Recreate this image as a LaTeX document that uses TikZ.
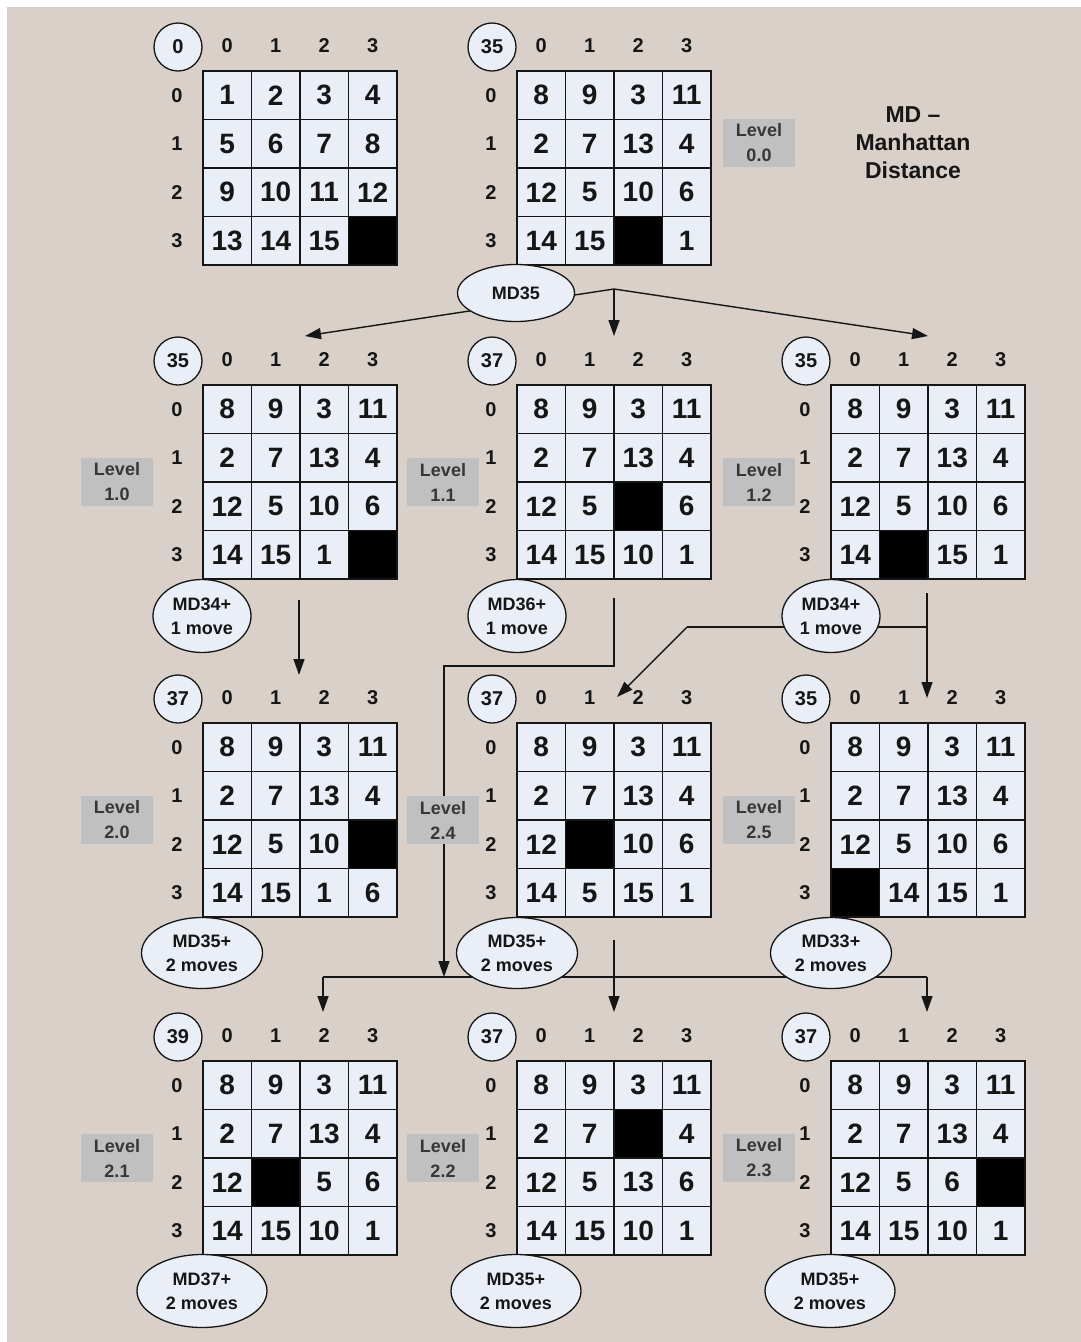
\documentclass[tikz,border=0pt]{standalone}
\usepackage{fontspec}
\setmainfont{Liberation Sans}
\usetikzlibrary{arrows.meta,shapes.geometric}
\definecolor{bgc}{RGB}{217,208,201}
\definecolor{cellc}{RGB}{233,238,247}
\definecolor{lvl}{RGB}{192,192,192}
\definecolor{ink}{RGB}{22,22,22}
\definecolor{lvltext}{RGB}{55,55,55}
\pgfdeclarelayer{back}
\pgfdeclarelayer{lines}
\pgfsetlayers{back,lines,main}
\tikzset{
  cell/.style={draw=ink, line width=1.3pt, fill=cellc, minimum size=48.5pt, inner sep=0pt,
    font=\fontsize{28}{28}\selectfont\bfseries, text=ink},
  hole/.style={cell, fill=black},
  hdr/.style={font=\fontsize{20}{20}\selectfont\bfseries, text=ink, inner sep=0pt},
  numcirc/.style={circle, draw=ink, line width=1.3pt, fill=cellc, minimum size=48pt, inner sep=0pt,
    font=\fontsize{20}{20}\selectfont\bfseries, text=ink},
  lvlbox/.style={fill=lvl, minimum width=72pt, minimum height=48pt, inner sep=0pt, align=center,
    font=\fontsize{18}{25}\selectfont\bfseries, text=lvltext},
  mdell/.style={ellipse, draw=ink, line width=1.3pt, fill=cellc, inner sep=0pt, align=center,
    font=\fontsize{18}{24}\selectfont\bfseries, text=ink},
  titletext/.style={align=center, font=\fontsize{23}{28}\selectfont\bfseries, text=ink},
  conn/.style={draw=ink, line width=1.4pt},
  arr/.style={conn, -{Triangle[length=16pt,width=11pt]}},
}
\newcommand\puzzle[5]{%
  \node[numcirc] (#1-n) at ({#2-25},{#3-24}) {#4};
  \foreach \k in {0,...,3}{
    \node[hdr] (#1-col\k) at ({#2+24.25+48.5*\k},{#3-25}) {\k};
    \node[hdr] (#1-row\k) at ({#2-26},{#3+24.25+48.5*\k}) {\k};
  }
  \foreach \v [count=\i from 0] in {#5}{
    \pgfmathtruncatemacro\prow{\i/4}
    \pgfmathtruncatemacro\pcol{\i-4*\prow}
    \ifnum\v=0
      \node[hole] (#1-\prow\pcol) at ({#2+24.25+48.5*\pcol},{#3+24.25+48.5*\prow}) {};
    \else
      \node[cell] (#1-\prow\pcol) at ({#2+24.25+48.5*\pcol},{#3+24.25+48.5*\prow}) {\v};
    \fi
  }
}
\begin{document}
\begin{tikzpicture}[x=1pt,y=-1pt]
\useasboundingbox (0,0) rectangle (1081,1342);
\begin{pgfonlayer}{back}
  \fill[white] (0,0) rectangle (1081,1342);
  \fill[bgc] (7,7) rectangle (1081,1342);
\end{pgfonlayer}

% ---- grids ----
\puzzle{goal}{203}{71}{0}{1,2,3,4,5,6,7,8,9,10,11,12,13,14,15,0}
\puzzle{l00}{517}{71}{35}{8,9,3,11,2,7,13,4,12,5,10,6,14,15,0,1}
\puzzle{l10}{203}{385}{35}{8,9,3,11,2,7,13,4,12,5,10,6,14,15,1,0}
\puzzle{l11}{517}{385}{37}{8,9,3,11,2,7,13,4,12,5,0,6,14,15,10,1}
\puzzle{l12}{831}{385}{35}{8,9,3,11,2,7,13,4,12,5,10,6,14,0,15,1}
\puzzle{l20}{203}{723}{37}{8,9,3,11,2,7,13,4,12,5,10,0,14,15,1,6}
\puzzle{l24}{517}{723}{37}{8,9,3,11,2,7,13,4,12,0,10,6,14,5,15,1}
\puzzle{l25}{831}{723}{35}{8,9,3,11,2,7,13,4,12,5,10,6,0,14,15,1}
\puzzle{l21}{203}{1061}{39}{8,9,3,11,2,7,13,4,12,0,5,6,14,15,10,1}
\puzzle{l22}{517}{1061}{37}{8,9,3,11,2,7,0,4,12,5,13,6,14,15,10,1}
\puzzle{l23}{831}{1061}{37}{8,9,3,11,2,7,13,4,12,5,6,0,14,15,10,1}

% ---- level labels ----
\node[lvlbox] (lv00) at (759,143) {Level\\0.0};
\node[lvlbox] (lv10) at (117,482) {Level\\1.0};
\node[lvlbox] (lv11) at (443,482) {Level\\1.1};
\node[lvlbox] (lv12) at (759,482) {Level\\1.2};
\node[lvlbox] (lv20) at (117,820) {Level\\2.0};
\node[lvlbox] (lv24) at (443,820) {Level\\2.4};
\node[lvlbox] (lv25) at (759,820) {Level\\2.5};
\node[lvlbox] (lv21) at (117,1158) {Level\\2.1};
\node[lvlbox] (lv22) at (443,1158) {Level\\2.2};
\node[lvlbox] (lv23) at (759,1158) {Level\\2.3};

\node[titletext] (title) at (913,143) {MD –\\Manhattan\\Distance};

% ---- distance ellipses ----
\node[mdell, minimum width=117pt, minimum height=57pt] (md00) at (516,293) {MD35};
\node[mdell, minimum width=98pt, minimum height=73pt] (md10) at (202,616) {MD34+\\1 move};
\node[mdell, minimum width=98pt, minimum height=73pt] (md11) at (517,616) {MD36+\\1 move};
\node[mdell, minimum width=98pt, minimum height=73pt] (md12) at (831,616) {MD34+\\1 move};
\node[mdell, minimum width=121pt, minimum height=71pt] (md20) at (202,953) {MD35+\\2 moves};
\node[mdell, minimum width=121pt, minimum height=71pt] (md24) at (517,953) {MD35+\\2 moves};
\node[mdell, minimum width=121pt, minimum height=71pt] (md25) at (831,953) {MD33+\\2 moves};
\node[mdell, minimum width=130pt, minimum height=73pt] (md21) at (202,1291) {MD37+\\2 moves};
\node[mdell, minimum width=130pt, minimum height=73pt] (md22) at (516,1291) {MD35+\\2 moves};
\node[mdell, minimum width=130pt, minimum height=73pt] (md23) at (830,1291) {MD35+\\2 moves};

% ---- connector points ----
\coordinate (j0) at (614,289);
\coordinate (t10) at (305,336);
\coordinate (t11) at (614,336);
\coordinate (t12) at (928,336);
\coordinate (a10s) at (299,600);
\coordinate (a10e) at (299,675);
\coordinate (m11s) at (614,598);
\coordinate (m11a) at (614,666);
\coordinate (m11b) at (444,666);
\coordinate (bus1) at (444,977);
\coordinate (busL) at (323,977);
\coordinate (busR) at (927,977);
\coordinate (t21) at (323,1012);
\coordinate (t23) at (927,1012);
\coordinate (m24s) at (614,940);
\coordinate (t22) at (614,1012);
\coordinate (k0) at (687,627);
\coordinate (k1) at (927,627);
\coordinate (k2) at (927,593);
\coordinate (t24) at (617,697);
\coordinate (t25) at (927,698);

\begin{pgfonlayer}{lines}
  \draw[arr] (j0) -- (t10);
  \draw[arr] (j0) -- (t11);
  \draw[arr] (j0) -- (t12);
  \draw[arr] (a10s) -- (a10e);
  \draw[arr] (m11s) -- (m11a) -- (m11b) -- (bus1);
  \draw[conn] (busL) -- (busR);
  \draw[arr] (busL) -- (t21);
  \draw[arr] (busR) -- (t23);
  \draw[arr] (m24s) -- (t22);
  \draw[conn] (k0) -- (k1);
  \draw[arr] (k0) -- (t24);
  \draw[arr] (k2) -- (t25);
\end{pgfonlayer}
\end{tikzpicture}
\end{document}
